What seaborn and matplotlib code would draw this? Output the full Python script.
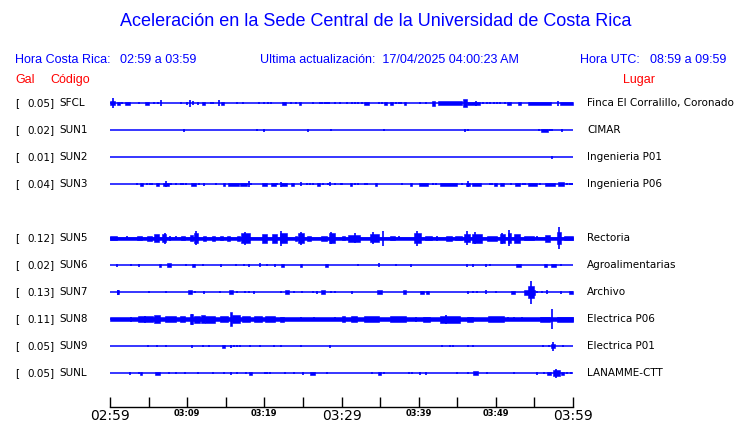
import numpy as np
import pandas as pd
import matplotlib
matplotlib.use("Agg")
import matplotlib.pyplot as plt
import matplotlib.transforms as mtransforms
import seaborn as sns

# Estaciones (la 5a ranura no tiene datos) y aceleracion maxima (Gal)
codes = ["SFCL", "SUN1", "SUN2", "SUN3", None, "SUN5", "SUN6", "SUN7", "SUN8", "SUN9", "SUNL"]
gal = [0.05, 0.02, 0.01, 0.04, None, 0.12, 0.02, 0.13, 0.11, 0.05, 0.05]
places = ["Finca El Corralillo, Coronado", "CIMAR", "Ingenieria P01", "Ingenieria P06", None,
          "Rectoria", "Agroalimentarias", "Archivo", "Electrica P06", "Electrica P01", "LANAMME-CTT"]

# Eje de tiempo (minutos desde 02:59)
tick_minutes = [0, 10, 20, 30, 40, 50, 60]
minor_minutes = [5, 15, 25, 35, 45, 55]
tick_labels = ["02:59", "03:09", "03:19", "03:29", "03:39", "03:49", "03:59"]
big_ticks = ["02:59", "03:29", "03:59"]

# Envolvente de cada traza: (inicio min, fin min, amplitud px)
sfcl = [(0.0, 0.65, 2.3), (0.39, 0.39, 5), (0.86, 1.3, 1.5), (1.5, 1.5, 1), (1.94, 2.6, 1.5), (3.8, 3.8, 1),
        (4.6, 5.0, 1.5), (5.75, 5.75, 1), (6.2, 6.2, 1), (6.6, 6.6, 3), (9.2, 9.2, 1), (9.93, 9.93, 1.5),
        (10.4, 10.4, 3.5), (10.7, 10.7, 2), (11.4, 11.4, 1.5), (11.9, 12.3, 1.5), (13.1, 13.1, 1),
        (13.4, 13.4, 1), (14.1, 14.1, 3), (14.4, 14.8, 1.5), (16.4, 16.4, 1), (17.3, 17.3, 1),
        (19.3, 19.3, 1), (19.9, 19.9, 1), (20.5, 20.5, 1), (20.8, 20.8, 1), (22.3, 22.8, 1.5),
        (23.4, 23.4, 1), (24.1, 24.1, 1), (24.5, 24.8, 1.5), (26.3, 26.3, 1), (27.2, 27.2, 1),
        (27.5, 27.5, 1), (27.9, 27.9, 1), (28.1, 28.1, 1), (28.4, 28.4, 1), (29.1, 29.1, 1),
        (29.8, 29.8, 1), (30.75, 30.75, 1), (31.3, 31.3, 1), (31.7, 31.7, 1), (32.2, 32.2, 1),
        (32.6, 32.6, 1), (32.9, 33.5, 1.5), (34.9, 34.9, 1), (35.2, 35.2, 1), (35.5, 35.85, 1.5),
        (36.3, 36.7, 1.5), (37.1, 37.1, 1), (37.4, 37.4, 1), (37.7, 37.7, 1), (38.1, 38.4, 1.5),
        (40.2, 40.2, 1), (40.9, 40.9, 1), (41.7, 42.1, 2.5), (42.5, 45.6, 1.7), (45.8, 46.2, 4),
        (46.2, 47.9, 1.5), (47.4, 47.4, 2.5), (48.3, 48.3, 1), (48.9, 48.9, 1), (49.2, 49.2, 1),
        (49.8, 49.8, 1), (50.1, 50.1, 1), (50.5, 50.5, 1), (51.2, 51.2, 1), (51.4, 52.0, 1.5),
        (52.9, 53.2, 1.5), (54.2, 57.2, 1.5), (58.0, 58.0, 2.5), (58.3, 60.0, 1.5)]
sun1 = [(9.6, 9.6, 1.5), (19.1, 19.1, 1), (20.0, 20.0, 1.5), (25.6, 25.6, 1.5), (28.6, 28.6, 1),
        (35.5, 35.5, 1), (46.0, 46.0, 1.5), (46.4, 46.4, 1), (55.6, 55.6, 1), (55.9, 56.7, 1.5),
        (57.0, 57.0, 1), (57.3, 57.3, 1), (58.6, 58.6, 1.5)]
sun2 = [(57.3, 57.3, 1.5)]
sun3 = [(3.45, 3.45, 1), (3.9, 4.3, 1.5), (4.75, 4.75, 1), (5.2, 5.2, 1), (5.5, 5.5, 1), (5.9, 6.3, 1.5),
        (6.9, 7.6, 1.5), (7.2, 7.2, 3), (7.9, 7.9, 1), (8.55, 8.55, 1), (9.2, 9.2, 1), (9.5, 9.5, 1),
        (9.8, 9.8, 1), (10.5, 11.2, 1.5), (11.5, 11.5, 1), (12.2, 12.2, 1.5), (13.8, 13.8, 1),
        (14.6, 14.9, 1.5), (15.25, 16.7, 1.5), (16.85, 17.7, 1.5), (18.0, 18.0, 3), (18.3, 18.3, 1),
        (19.7, 20.4, 1.5), (20.8, 21.5, 1.5), (21.7, 21.7, 1), (22.2, 22.2, 2.5), (22.2, 23.0, 1.5),
        (23.5, 23.8, 1.5), (24.8, 24.8, 2), (25.5, 25.5, 1), (25.9, 25.9, 1), (26.35, 26.35, 1),
        (26.8, 27.2, 1.5), (27.6, 27.6, 1), (28.2, 28.2, 1), (28.55, 28.55, 2), (29.1, 29.1, 1),
        (29.9, 29.9, 1), (30.0, 30.0, 1), (31.1, 31.4, 1.5), (31.75, 31.75, 1), (32.2, 32.2, 1),
        (33.0, 33.0, 1), (33.3, 33.3, 1), (34.3, 34.6, 1.5), (37.9, 37.9, 1), (38.9, 39.1, 1.5),
        (40.0, 41.25, 1.5), (41.9, 41.9, 1), (42.2, 42.2, 1), (42.8, 45.0, 1.5), (45.6, 45.6, 1),
        (46.1, 46.7, 1.5), (46.4, 46.4, 3), (46.9, 48.1, 1.5), (49.2, 49.2, 1), (49.5, 49.5, 1),
        (49.7, 50.1, 1.5), (50.6, 51.1, 1.5), (52.0, 52.0, 1), (52.5, 53.1, 1.5), (53.5, 53.5, 1),
        (53.8, 53.8, 1), (54.2, 55.3, 1.5), (55.7, 55.7, 1), (56.4, 57.7, 1.5), (58.1, 58.8, 2),
        (59.2, 59.2, 1), (59.6, 59.6, 1), (59.9, 59.9, 1)]
sun5 = [(0, 60, 1.5), (0, 0.9, 1.8), (2.2, 2.2, 2), (3.5, 4.1, 2), (4.75, 5.4, 2.5), (5.75, 6.3, 4),
        (6.7, 7.3, 4), (7.1, 7.1, 5.5), (7.8, 7.8, 2.5), (8.6, 8.6, 2), (9.2, 9.7, 2), (10.4, 10.8, 3),
        (10.9, 11.4, 5), (11.1, 11.1, 7), (12.1, 12.5, 2.5), (13.2, 13.6, 2.5), (14.25, 14.7, 2),
        (15.1, 15.55, 2.5), (16.4, 16.85, 2.5), (17.0, 18.1, 5), (17.5, 17.5, 6.5), (19.65, 20.3, 4.5),
        (21.0, 21.6, 4.5), (22.0, 22.9, 5), (22.2, 22.2, 7.5), (24.0, 24.2, 2.5), (24.4, 25.2, 5),
        (24.8, 24.8, 6.5), (25.5, 26.1, 2.5), (27.4, 28.1, 2.5), (28.4, 29.2, 5), (28.7, 28.7, 6),
        (30.0, 30.4, 2), (30.9, 32.4, 3.5), (31.7, 31.7, 5), (33.7, 34.8, 4), (34.1, 34.1, 6),
        (35.4, 35.4, 7.5), (36.3, 36.9, 2), (37.5, 37.5, 2), (39.4, 40.25, 5), (39.75, 39.75, 7.5),
        (40.8, 41.7, 2), (42.4, 42.4, 2.5), (43.5, 44.3, 2.5), (44.7, 45.6, 2), (45.9, 46.6, 4),
        (46.3, 46.3, 7), (46.9, 48.2, 4.5), (47.3, 47.3, 6), (48.8, 50.1, 2.5), (50.5, 51.2, 4.5),
        (50.8, 50.8, 5.5), (51.6, 52.0, 5), (51.7, 51.7, 8), (52.3, 53.1, 4.5), (53.6, 54.9, 2),
        (55.3, 55.3, 2), (56.4, 57.0, 3.5), (57.9, 58.5, 6), (58.2, 58.2, 11), (58.8, 60, 2)]
sun6 = [(0.86, 0.86, 1.5), (2.7, 2.7, 1), (3.7, 3.7, 1.5), (6.3, 6.6, 1.5), (7.4, 7.9, 2), (9.9, 9.9, 1),
        (10.6, 11.0, 1.5), (12.0, 12.0, 1), (14.4, 14.4, 1.5), (16.3, 16.3, 1), (17.4, 17.4, 1),
        (18.0, 18.0, 1.5), (19.5, 19.5, 2), (20.3, 20.3, 1), (21.4, 21.4, 1.5), (22.2, 22.6, 1.5),
        (24.6, 24.9, 1.5), (27.9, 28.2, 1.5), (32.2, 32.2, 1), (34.9, 34.9, 2), (37.1, 37.1, 1),
        (39.0, 39.0, 1.5), (46.3, 46.3, 1.5), (47.0, 47.0, 1.5), (48.7, 48.7, 1.5), (49.3, 49.3, 1),
        (52.6, 53.3, 1.5), (56.2, 56.6, 1.5), (57.1, 57.8, 1.5), (58.5, 58.5, 1)]
sun7 = [(0.86, 1.2, 2), (1.0, 1.0, 2.5), (5.0, 5.0, 1), (7.3, 7.3, 1), (10.15, 10.6, 2), (11.0, 11.0, 1),
        (12.2, 12.2, 1.5), (14.25, 14.25, 1), (15.4, 16.0, 2), (16.5, 16.5, 1), (17.5, 17.5, 1),
        (18.0, 18.0, 1), (18.7, 18.7, 1.5), (22.2, 22.2, 1), (22.7, 23.2, 2), (23.9, 23.9, 1),
        (24.9, 24.9, 1), (26.35, 26.35, 1), (26.8, 26.8, 1.5), (27.4, 27.9, 2), (28.6, 28.6, 1),
        (29.2, 29.2, 1), (31.4, 31.4, 1.5), (34.55, 35.2, 2), (38.0, 38.4, 2), (40.2, 40.7, 1.5),
        (40.9, 41.4, 1.5), (46.4, 46.4, 1.5), (47.1, 47.1, 1), (47.5, 47.5, 1), (48.7, 48.7, 2),
        (50.0, 50.0, 1), (52.0, 52.5, 1.5), (53.6, 55.1, 2.5), (54.2, 54.9, 6), (54.6, 54.6, 11.5),
        (55.3, 55.3, 1), (56.0, 56.0, 1), (56.6, 56.6, 2), (58.5, 58.5, 1.5), (59.5, 60.0, 1.5)]
sun8 = [(0, 60, 1.7), (2.7, 2.7, 2.5), (3.6, 5.6, 3), (4.5, 4.5, 3.5), (5.75, 6.5, 4.5), (7.1, 8.6, 3),
        (9.1, 9.7, 3), (10.4, 10.8, 5), (10.6, 10.6, 5.5), (10.9, 11.7, 3.5), (11.8, 12.3, 4.5),
        (12.3, 13.6, 3.5), (14.25, 15.3, 3), (15.55, 15.8, 7), (15.8, 16.85, 4.5), (17.1, 18.1, 3),
        (18.6, 19.65, 3), (20.1, 21.4, 3), (22.0, 22.5, 2.5), (24.8, 24.8, 2), (26.5, 26.5, 2),
        (29.2, 29.2, 2), (30.1, 30.5, 3), (31.2, 32.0, 3), (32.9, 34.9, 3), (36.3, 38.4, 3),
        (39.65, 39.65, 2.5), (40.6, 41.5, 2.5), (42.8, 45.35, 3.5), (43.6, 43.6, 4.5), (46.2, 47.1, 2.5),
        (49.0, 51.0, 3), (51.6, 51.6, 2), (52.3, 52.3, 2), (53.35, 53.35, 2), (55.7, 57.0, 2.5),
        (57.3, 57.3, 10), (57.9, 60, 2.5)]
sun9 = [(4.9, 4.9, 1), (6.05, 6.05, 1), (7.3, 7.3, 1), (10.6, 10.6, 1.5), (12.1, 12.1, 1), (12.8, 12.8, 1),
        (14.5, 14.9, 1.5), (15.7, 15.7, 1.5), (16.1, 16.1, 1), (16.5, 16.5, 1), (16.85, 16.85, 1),
        (18.1, 18.1, 1), (19.4, 19.4, 1), (21.2, 21.2, 1), (22.2, 22.2, 1), (24.8, 24.8, 1),
        (28.5, 28.5, 1.5), (43.0, 43.0, 1), (44.05, 44.05, 1), (44.5, 44.5, 1), (46.4, 46.4, 1),
        (47.1, 47.1, 1), (56.15, 56.15, 1), (56.9, 56.9, 1), (57.1, 57.7, 2), (57.4, 57.4, 4.5),
        (58.65, 58.65, 1)]
sunl = [(2.6, 2.6, 1.5), (3.7, 3.7, 1), (3.9, 4.2, 1.5), (5.8, 6.5, 1.5), (7.65, 7.65, 1), (8.5, 8.5, 1),
        (9.7, 9.7, 1), (11.45, 11.45, 1), (13.3, 13.3, 1), (14.8, 14.8, 1), (15.7, 15.7, 1.5),
        (16.5, 16.5, 1), (17.6, 17.6, 1), (18.0, 18.4, 1.5), (20.1, 20.1, 1), (20.4, 20.4, 1),
        (20.7, 20.7, 1), (22.7, 22.7, 1), (23.8, 23.8, 1), (25.0, 25.0, 1.5), (25.9, 26.6, 1.5),
        (28.1, 28.1, 1), (34.0, 34.0, 1), (34.7, 35.1, 1.5), (35.5, 35.5, 1), (38.7, 38.7, 1),
        (39.1, 39.1, 1), (40.2, 40.2, 1.5), (41.0, 41.0, 1.5), (45.0, 45.0, 1), (46.4, 46.4, 1),
        (47.1, 47.7, 2), (48.9, 48.9, 1), (52.3, 52.3, 1), (55.3, 55.3, 1.5), (56.2, 56.2, 1),
        (56.6, 57.1, 1.5), (57.4, 58.3, 3), (57.8, 57.8, 4.5), (58.5, 58.8, 1.5), (59.2, 59.2, 1),
        (59.8, 59.8, 1)]
traces = [sfcl, sun1, sun2, sun3, None, sun5, sun6, sun7, sun8, sun9, sunl]

BLUE = "#0000ff"
RED = "#ff0000"
ROW_PX = 27.0  # separacion entre trazas en pixeles

sns.set_style("white")
plt.rcParams["font.family"] = ["DejaVu Sans"]
plt.rcParams["text.color"] = "black"
plt.rcParams["xtick.color"] = "black"

W, H = 740, 423
fig = plt.figure(figsize=(W / 100, H / 100), dpi=100)
ax = fig.add_axes([110 / W, (H - 407) / H, 463 / W, (407 - 90) / H])

# lineas base de cada estacion
rows = [i for i, c in enumerate(codes) if c is not None]
base = pd.DataFrame({
    "t": [0, 60] * len(rows),
    "row": [r for r in rows for _ in range(2)],
    "code": [codes[r] for r in rows for _ in range(2)],
})
sns.lineplot(data=base, x="t", y="row", units="code", estimator=None,
             color=BLUE, lw=1.1, ax=ax, legend=False)

for r in rows:
    for s, e, a in traces[r]:
        h = a / ROW_PX
        if e > s:
            ax.fill_between([s, e], r - h, r + h, color=BLUE, lw=0.4)
        else:
            ax.vlines(s, r - h, r + h, color=BLUE, lw=1.2)

ax.set_xlim(0, 60)
ax.set_ylim((407 - 103) / ROW_PX, (90 - 103) / ROW_PX)
ax.set_xlabel("")
ax.set_ylabel("")
ax.set_yticks([])
for side in ["top", "left", "right"]:
    ax.spines[side].set_visible(False)
ax.spines["bottom"].set_color("black")
ax.spines["bottom"].set_linewidth(1.0)
ax.set_xticks(tick_minutes)
ax.set_xticks(minor_minutes, minor=True)
ax.set_xticklabels(tick_labels)
ax.tick_params(axis="x", which="both", direction="in", length=7, width=1.0, color="black", pad=1.5,
               bottom=True, labelcolor="black")
for lab in ax.get_xticklabels():
    if lab.get_text() in big_ticks:
        lab.set_fontsize(10)
    else:
        lab.set_fontsize(6)
        lab.set_fontweight("bold")

# textos de las filas
trans = mtransforms.blended_transform_factory(fig.transFigure, ax.transData)
for r in rows:
    ax.text(15 / W, r, "[", transform=trans, fontsize=7.5, va="center", ha="left", clip_on=False)
    ax.text(55 / W, r, f"{gal[r]:.2f}]", transform=trans, fontsize=7.5, va="center", ha="right",
            clip_on=False)
    ax.text(59 / W, r, codes[r], transform=trans, fontsize=7.5, va="center", ha="left", clip_on=False)
    ax.text(587 / W, r, places[r], transform=trans, fontsize=7.5, va="center", ha="left",
            clip_on=False)

# encabezado
hdr = ["Liberation Sans", "DejaVu Sans"]
fig.text(376 / W, 1 - 22 / H, "Aceleración en la Sede Central de la Universidad de Costa Rica",
         ha="center", va="center", color=BLUE, fontsize=13, family=hdr)
fig.text(15 / W, 1 - 60 / H, "Hora Costa Rica:", ha="left", va="center", color=BLUE, fontsize=9,
         family=hdr)
fig.text(120 / W, 1 - 60 / H, "02:59 a 03:59", ha="left", va="center", color=BLUE, fontsize=9,
         family=hdr)
fig.text(260 / W, 1 - 60 / H, "Ultima actualización:  17/04/2025 04:00:23 AM", ha="left",
         va="center", color=BLUE, fontsize=9, family=hdr)
fig.text(580 / W, 1 - 60 / H, "Hora UTC:", ha="left", va="center", color=BLUE, fontsize=9, family=hdr)
fig.text(650 / W, 1 - 60 / H, "08:59 a 09:59", ha="left", va="center", color=BLUE, fontsize=9,
         family=hdr)
fig.text(15 / W, 1 - 80 / H, "Gal", ha="left", va="center", color=RED, fontsize=9, family=hdr)
fig.text(50 / W, 1 - 80 / H, "Código", ha="left", va="center", color=RED, fontsize=9, family=hdr)
fig.text(623 / W, 1 - 80 / H, "Lugar", ha="left", va="center", color=RED, fontsize=9, family=hdr)

fig.savefig("out.png", dpi=100)
